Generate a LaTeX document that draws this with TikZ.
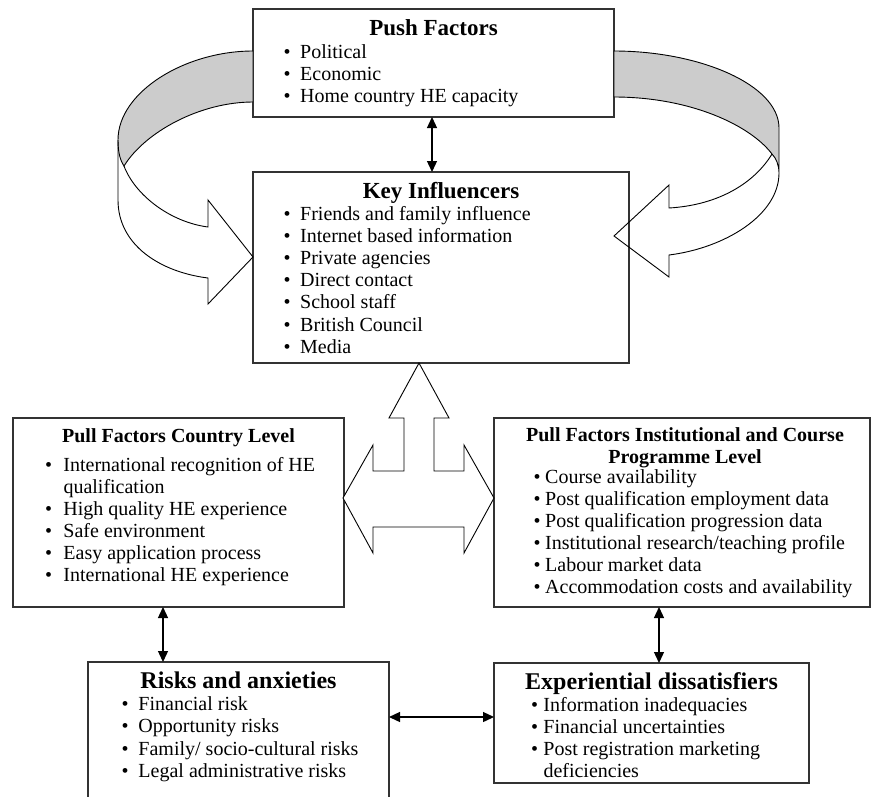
\documentclass[tikz,border=0pt]{standalone}
\usepackage{fontspec}
\setmainfont{Liberation Serif}
\usetikzlibrary{arrows.meta}
\definecolor{bandgray}{HTML}{CCCCCC}
\definecolor{edge}{HTML}{333333}
\tikzset{
  boxnode/.style={draw=edge, line width=1.1pt, inner sep=0pt, outer sep=0pt},
  headtitle/.style={anchor=base, inner sep=0pt, font=\fontsize{23}{26}\selectfont\bfseries},
  subtitle/.style={anchor=base, inner sep=0pt, font=\fontsize{20}{22}\selectfont\bfseries},
  bigtitle/.style={anchor=base, inner sep=0pt, font=\fontsize{24}{26}\selectfont\bfseries},
  item/.style={anchor=base west, inner sep=0pt, font=\fontsize{20}{22}\selectfont},
  link/.style={line width=1.3pt, draw=black, {Triangle[length=11pt,width=10pt]}-{Triangle[length=11pt,width=10pt]}},
  ribbon/.style={draw=black, line width=0.9pt, line join=miter},
  band/.style={ribbon, fill=bandgray},
  blockarrow/.style={draw=black, line width=0.9pt, fill=white}
}
\newcommand\bul[1]{\makebox[#1][l]{\textbullet}}
\begin{document}
\begin{tikzpicture}[x=1pt, y=-1pt]
\useasboundingbox (0,0) rectangle (872,796);
\clip (0,0) rectangle (872,796);

% ---- boxes ----
\node[boxnode, minimum width=361pt, minimum height=108pt] (push) at (433.5,63) {};
\node[boxnode, minimum width=376pt, minimum height=191pt] (key) at (441,267.5) {};
\node[boxnode, minimum width=331pt, minimum height=189pt] (pullC) at (178.5,512.5) {};
\node[boxnode, minimum width=376pt, minimum height=189pt] (pullI) at (682,512.5) {};
\node[boxnode, minimum width=301pt, minimum height=150pt] (risk) at (238.5,737) {};
\node[boxnode, minimum width=315pt, minimum height=120pt] (diss) at (651.5,723) {};

% ---- curved ribbon arrows from the push factors ----
\filldraw[band] (253,51) .. controls (185,51) and (118,92) .. (118,140)
  .. controls (118,152) and (120,160) .. (124,166)
  .. controls (145,132) and (200,102) .. (253,102) -- cycle;
\draw[ribbon] (118,140) -- (118,200) .. controls (118,245) and (160,272) .. (208,278)
  -- (208,304) -- (253,257) -- (208,200) -- (208,227)
  .. controls (170,222) and (135,195) .. (124,166);

\filldraw[band] (614,51) .. controls (700,51) and (779,85) .. (779,128) -- (779,173)
  .. controls (779,165) and (776,158) .. (772,154)
  .. controls (750,125) and (690,97) .. (614,97) -- cycle;
\draw[ribbon] (772,154) .. controls (755,182) and (720,205) .. (669,208)
  -- (669,185) -- (614,236) -- (669,277) -- (669,255)
  .. controls (725,248) and (779,215) .. (779,173);

% ---- three-headed block arrow below the key influencers ----
\draw[blockarrow] (419,363) -- (449,418) -- (434,418) -- (434,471) -- (464,471) -- (464,445)
  -- (494,498) -- (464,553) -- (464,527) -- (373,527) -- (373,553) -- (343,498)
  -- (373,445) -- (373,471) -- (404,471) -- (404,418) -- (389,418) -- cycle;

% ---- connectors ----
\coordinate (ax) at (432,0);
\coordinate (lx) at (163,0);
\coordinate (rx) at (659,0);
\coordinate (hy) at (0,717);
\draw[link] (ax |- push.south) -- (ax |- key.north);
\draw[link] (lx |- pullC.south) -- (lx |- risk.north);
\draw[link] (rx |- pullI.south) -- (rx |- diss.north);
\draw[link] (risk.east |- hy) -- (diss.west |- hy);

% ---- texts ----
\node[headtitle] (push-t) at (433.5,35) {Push Factors};
\foreach \t [count=\i from 0] in {Political, Economic, {Home country HE capacity}}
  \node[item] (push-\i) at (283.5,58+22.3*\i) {\bul{16.5pt}\t};

\node[headtitle] (key-t) at (441,198) {Key Influencers};
\foreach \t [count=\i from 0] in {{Friends and family influence}, {Internet based information},
    {Private agencies}, {Direct contact}, {School staff}, {British Council}, Media}
  \node[item] (key-\i) at (283.5,220.5+22.1*\i) {\bul{16.5pt}\t};

\node[subtitle] (pullC-t) at (178.5,442) {Pull Factors Country Level};
\foreach \t/\k in {International recognition of HE/0, High quality HE experience/2,
    Safe environment/3, Easy application process/4, International HE experience/5}
  \node[item] (pullC-\k) at (44.8,471+22*\k) {\bul{18.5pt}\t};
\node[item] (pullC-1) at (63.3,493) {qualification};

\node[subtitle] (pullI-t1) at (685,441) {Pull Factors Institutional and Course};
\node[subtitle] (pullI-t2) at (685,463) {Programme Level};
\foreach \t [count=\i from 0] in {{Course availability}, {Post qualification employment data},
    {Post qualification progression data}, {Institutional research/teaching profile},
    {Labour market data}, {Accommodation costs and availability}}
  \node[item] (pullI-\i) at (533.5,483.5+22*\i) {\bul{11.5pt}\t};

\node[bigtitle] (risk-t) at (238.5,688) {Risks and anxieties};
\foreach \t [count=\i from 0] in {{Financial risk}, {Opportunity risks},
    {Family/ socio-cultural risks}, {Legal administrative risks}}
  \node[item] (risk-\i) at (121.5,710.5+22.3*\i) {\bul{16.8pt}\t};

\node[bigtitle] (diss-t) at (651.5,689) {Experiential dissatisfiers};
\foreach \t/\k in {Information inadequacies/0, Financial uncertainties/1,
    Post registration marketing/2}
  \node[item] (diss-\k) at (530.8,711.5+22*\k) {\bul{12.5pt}\t};
\node[item] (diss-3) at (543.3,777.5) {deficiencies};
\end{tikzpicture}
\end{document}
